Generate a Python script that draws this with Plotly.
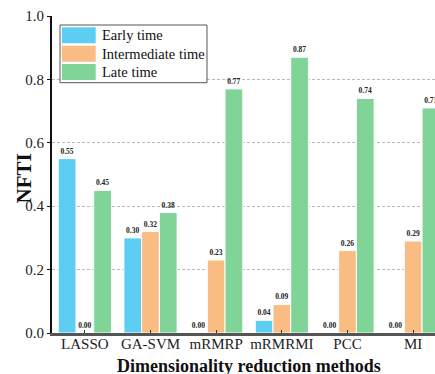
import plotly.graph_objects as go

methods = ["LASSO", "GA-SVM", "mRMRP", "mRMRMI", "PCC", "MI"]
early = [0.55, 0.30, 0.00, 0.04, 0.00, 0.00]
intermediate = [0.00, 0.32, 0.23, 0.09, 0.26, 0.29]
late = [0.45, 0.38, 0.77, 0.87, 0.74, 0.71]
series_names = ["Early time", "Intermediate time", "Late time"]
colors = ["#5DCEF2", "#F9BC82", "#80D498"]
y_ticks = [0.0, 0.2, 0.4, 0.6, 0.8, 1.0]

SERIF = "Liberation Serif"

fig = go.Figure()
for name, vals, col in zip(series_names, [early, intermediate, late], colors):
    fig.add_trace(go.Bar(
        x=methods, y=vals, name=name,
        marker=dict(color=col, line=dict(color="white", width=1)),
        text=[f"{v:.2f}" for v in vals],
        textposition="outside",
        textfont=dict(family=SERIF, size=7.5, color="#222"),
        texttemplate="<b>%{text}</b>",
        constraintext="none",
        cliponaxis=False,
        showlegend=False,
    ))

fig.update_layout(
    width=435, height=374,
    margin=dict(l=52, r=0, t=16, b=41),
    paper_bgcolor="white", plot_bgcolor="white",
    barmode="group", bargap=0.19, bargroupgap=0,
    font=dict(family=SERIF, size=14, color="#222"),
    xaxis=dict(
        range=[-0.5, 5.332], showline=True, linecolor="#555", linewidth=2.5,
        ticks="inside", ticklen=3, tickcolor="#333",
        tickfont=dict(family=SERIF, size=15, color="#222"),
        ticklabelstandoff=-5,
        showgrid=False, zeroline=False,
    ),
    xaxis2=dict(
        range=[-0.5, 5.332], overlaying="x", side="top", anchor="y",
        showline=True, linecolor="#111", linewidth=2,
        ticks="inside", ticklen=3, tickcolor="#111",
        tickvals=list(range(len(methods))), showticklabels=False,
        showgrid=False, zeroline=False,
    ),
    yaxis=dict(
        range=[0, 1.0], tickvals=y_ticks, ticktext=[f"{t:.1f}" for t in y_ticks],
        showline=True, linecolor="#111", linewidth=2,
        ticks="outside", ticklen=3, tickcolor="#111",
        tickfont=dict(family=SERIF, size=15, color="#222"),
        showgrid=True, gridcolor="#BBBBBB", gridwidth=1, griddash="3px,2px",
        zeroline=False,
    ),
)

# Axis titles
fig.add_annotation(
    text="<b>Dimensionality reduction methods</b>", x=2.5, xref="x",
    y=0, yref="paper", yanchor="middle", yshift=-33, showarrow=False,
    font=dict(family=SERIF, size=18, color="#111"),
)
fig.add_annotation(
    text="<b>NFTI</b>", x=0, xref="paper", xanchor="center", xshift=-28.5,
    y=0.5, yref="paper", yanchor="middle", yshift=-4.5,
    textangle=-90, showarrow=False,
    font=dict(family=SERIF, size=21, color="#111"),
)

# Legend box with wide colour swatches
fig.add_shape(type="rect", xref="paper", yref="paper",
              x0=8 / 383, x1=155 / 383, y0=1 - 66.7 / 317, y1=1 - 9 / 317,
              line=dict(color="#555", width=1), fillcolor="white")
for i, (name, col) in enumerate(zip(series_names, colors)):
    top = 11.3 + i * 18.4
    fig.add_shape(type="rect", xref="paper", yref="paper",
                  x0=10 / 383, x1=43.7 / 383,
                  y0=1 - (top + 16) / 317, y1=1 - top / 317,
                  line=dict(width=0), fillcolor=col)
    fig.add_annotation(text=name, xref="paper", yref="paper",
                       x=48 / 383, y=1 - (top + 8) / 317,
                       xanchor="left", yanchor="middle", showarrow=False,
                       font=dict(family=SERIF, size=14.5, color="#111"))

fig.write_html("out.html")
